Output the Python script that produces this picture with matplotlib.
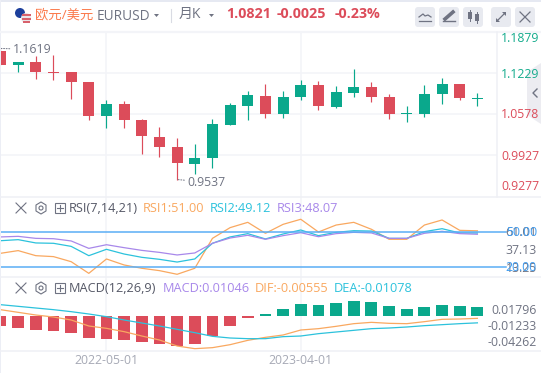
import matplotlib
matplotlib.use('Agg')
import matplotlib.pyplot as plt
from matplotlib.patches import Circle, FancyBboxPatch, Polygon, Rectangle

plt.rcParams['font.family'] = ['Open Sans', 'Noto Sans CJK SC', 'DejaVu Sans']

# monthly candles, EURUSD
opens = [1.1578, 1.1361, 1.1403, 1.1245, 1.1245, 1.1086, 1.0546, 1.0737, 1.0483, 1.0213, 1.0054, 0.9785, 0.9880, 1.0403,
         1.0705, 1.0864, 1.0578, 1.0848, 1.1038, 1.0689, 1.0911, 1.1006, 1.0848, 1.0573, 1.0578, 1.0895, 1.1054, 1.0816]
closes = [1.1356, 1.1398, 1.1245, 1.1234, 1.1086, 1.0546, 1.0737, 1.0483, 1.0229, 1.0054, 0.9800, 0.9880, 1.0419, 1.0721,
          1.0880, 1.0578, 1.0848, 1.1038, 1.0705, 1.0927, 1.1006, 1.0848, 1.0578, 1.0583, 1.0895, 1.1054, 1.0832, 1.0821]
highs = [1.1619, 1.1409, 1.1498, 1.1514, 1.1245, 1.1086, 1.0800, 1.0784, 1.0499, 1.0372, 1.0197, 1.0102, 1.0499, 1.0753,
         1.0943, 1.1054, 1.0943, 1.1118, 1.1102, 1.1022, 1.1292, 1.1086, 1.0895, 1.0705, 1.1038, 1.1149, 1.1054, 1.0911]
lows = [1.1356, 1.1245, 1.1133, 1.1118, 1.0816, 1.0483, 1.0356, 1.0356, 0.9943, 0.9896, 0.9537, 0.9626, 0.9721, 1.0403,
        1.0484, 1.0515, 1.0515, 1.0800, 1.0641, 1.0673, 1.0848, 1.0768, 1.0499, 1.0451, 1.0530, 1.0737, 1.0800, 1.0705]

rsi1 = [31.9, 34.2, 29.9, 29.1, 24.8, 14.9, 27.1, 22.0, 19.2, 17.2, 14.1, 19.2, 44.6, 53.7,
        58.2, 48.9, 56.5, 60.8, 50.0, 55.9, 58.2, 52.3, 43.8, 43.8, 55.9, 60.2, 51.4, 51.0]
rsi2 = [42.6, 43.5, 40.7, 40.4, 37.8, 29.9, 35.3, 31.3, 28.5, 26.8, 24.5, 27.1, 40.4, 45.8,
        48.6, 44.1, 48.3, 51.7, 46.9, 49.7, 51.1, 50.8, 44.6, 44.6, 50.3, 52.8, 49.2, 49.12]
rsi3 = [45.8, 46.3, 44.6, 44.3, 42.4, 36.1, 39.2, 36.7, 34.4, 32.7, 30.5, 32.2, 40.4, 44.9,
        47.2, 43.8, 46.9, 49.4, 46.0, 48.6, 49.7, 49.2, 44.6, 44.6, 48.9, 50.6, 48.6, 48.07]
rsi_refs = [50, 20]

macd_hist = [-0.0116, -0.0139, -0.0163, -0.0174, -0.0197, -0.0255, -0.0267, -0.0279, -0.0302, -0.0325, -0.0348, -0.0325, -0.0232, -0.0116,
             -0.0023, 0.0023, 0.0081, 0.0139, 0.0128, 0.0151, 0.0174, 0.0163, 0.0116, 0.0081, 0.0105, 0.0128, 0.0116, 0.01046]
dif = [0.00453, 0.00143, -0.00166, -0.00399, -0.00747, -0.01443, -0.01714, -0.02101, -0.02605, -0.03069, -0.03765, -0.04075, -0.03959, -0.03611,
       -0.03108, -0.02759, -0.02488, -0.01908, -0.01753, -0.01482, -0.01173, -0.01018, -0.01134, -0.01173, -0.00940, -0.00670, -0.00631, -0.00555]
dea = [0.01033, 0.00840, 0.00646, 0.00453, 0.00221, -0.00050, -0.00360, -0.00747, -0.01095, -0.01443, -0.01830, -0.02218, -0.02643, -0.02837,
       -0.02914, -0.02914, -0.02682, -0.02605, -0.02334, -0.02140, -0.01947, -0.01753, -0.01676, -0.01560, -0.01405, -0.01289, -0.01173, -0.01078]
hist_base = -0.00283  # bars sit on this level in the picture

price_ticks = ['1.1879', '1.1229', '1.0578', '0.9927', '0.9277']
rsi_ticks = ['61.01', '37.13', '13.25']
rsi_ref_ticks = ['50.00', '20.00']
macd_ticks = ['0.01796', '-0.01233', '-0.04262']
date_labels = ['2022-05-01', '2023-04-01']
date_index = [6, 17]

RED = '#dc4c5a'
GREEN = '#0aa88c'
ORANGE = '#f9a860'
CYAN = '#2cc2dc'
PURPLE = '#a888ea'
BLUE = '#5aaef5'
GREY = '#6f7382'
GRID = '#f3f4f8'

W, H = 541, 373
fig = plt.figure(figsize=(W / 100, H / 100), dpi=100, facecolor='white')
x = list(range(len(opens)))
xlim = (-0.028, 28.11)


def pane(top, bottom):
    ax = fig.add_axes([0, 1 - bottom / H, 497 / W, (bottom - top) / H])
    ax.set_xlim(*xlim)
    ax.patch.set_alpha(0)
    ax.set_yticks([])
    ax.set_xticks([])
    for s in ax.spines.values():
        s.set_visible(False)
    for i in date_index:
        ax.axvline(i, color=GRID, lw=1.1, zorder=0)
    return ax


# price pane
ax = pane(32, 197)
ax.set_ylim(0.9260, 1.1880)
for level in [1.1229, 1.0578, 0.9927]:
    ax.axhline(level, color=GRID, lw=1.1, zorder=0)
for i in x:
    c = GREEN if closes[i] >= opens[i] else RED
    ax.vlines(i, lows[i], highs[i], color=c, lw=0.85, zorder=2)
    ax.bar(i, max(abs(closes[i] - opens[i]), 0.0016), bottom=min(opens[i], closes[i]), width=0.62, color=c, zorder=3)
ax.annotate('1.1619', xy=(0, 1.1619), xytext=(12, 1.1602), textcoords=('offset pixels', 'data'), color=GREY, fontsize=8.8,
            va='center', arrowprops=dict(arrowstyle='-', linestyle=':', color=GREY, lw=0.7, shrinkA=0, shrinkB=0))
ax.annotate('0.9537', xy=(10, 0.9537), xytext=(10, 0.9498), textcoords=('offset pixels', 'data'), color=GREY, fontsize=8.8,
            va='center', arrowprops=dict(arrowstyle='-', linestyle=':', color=GREY, lw=0.7, shrinkA=0, shrinkB=0))

# rsi pane
ax_r = pane(197, 277)
ax_r.set_ylim(11.8, 79.7)
ax_r.plot(x, rsi1, color=ORANGE, lw=0.9)
ax_r.plot(x, rsi2, color=CYAN, lw=0.9)
ax_r.plot(x, rsi3, color=PURPLE, lw=0.9)
for level in rsi_refs:
    ax_r.plot([-1, 28.62], [level, level], color=BLUE, lw=1.1, clip_on=False)

# macd pane
ax_m = pane(277, 351)
ax_m.set_ylim(-0.04346, 0.04246)
ax_m.bar(x, macd_hist, bottom=hist_base, width=0.67, color=[GREEN if v >= 0 else RED for v in macd_hist], zorder=2)
ax_m.plot(x, dif, color=ORANGE, lw=0.9, zorder=3)
ax_m.plot(x, dea, color=CYAN, lw=0.9, zorder=3)

# everything else sits on a pixel overlay
ov = fig.add_axes([0, 0, 1, 1], zorder=5)
ov.set_xlim(0, W)
ov.set_ylim(H, 0)
ov.axis('off')
ov.patch.set_alpha(0)


def txt(px, py, s, color=GREY, size=8.8, ha='left', **kw):
    ov.text(px, py, s, color=color, fontsize=size, ha=ha, va='center', **kw)


def hline(y, x0=0, x1=W, color='#eff0f5', lw=1.1):
    ov.plot([x0, x1], [y, y], color=color, lw=lw)


ov.add_patch(Rectangle((0, 0), W, 1.6, color='#e6e9f2', lw=0))
ov.add_patch(Rectangle((0, 0), 1, H, color='#eceef5', lw=0))
hline(32, lw=1.6, color='#f3f4f8')
hline(197)
hline(277)
hline(351)
ov.plot([497, 497], [32, 197], color='#eff0f5', lw=1.1)

# header
ov.add_patch(Circle((20, 13), 5, color='#1c3f9c', lw=0))
ov.add_patch(Circle((26, 18), 5, color='#e8e4e8', lw=0))
ov.add_patch(Rectangle((21.5, 14), 9, 2, color='#d8616c', lw=0))
ov.add_patch(Rectangle((21.5, 18), 9, 1.5, color='#d8616c', lw=0))
ov.add_patch(Rectangle((22.5, 21), 7, 1.5, color='#d8616c', lw=0))
txt(35, 14.5, '欧元/美元', color='#fb7a4c', size=9.6)
txt(97, 16, 'EURUSD', size=9.8)
ov.add_patch(Polygon([[154, 14], [159, 14], [156.5, 17]], color=GREY, lw=0))
ov.plot([170.5, 170.5], [9, 22], color='#d9dbe3', lw=0.8)
txt(179, 14.5, '月K', size=10)
ov.add_patch(Polygon([[209, 14], [214, 14], [211.5, 17]], color=GREY, lw=0))
txt(226, 14.5, '1.0821', color=RED, size=10.3, fontweight='bold')
txt(277, 14.5, '-0.0025', color=RED, size=10.3, fontweight='bold')
txt(335, 14.5, '-0.23%', color=RED, size=10.3, fontweight='bold')

# toolbar buttons
for bx in [415, 439, 463, 491, 515]:
    ov.add_patch(FancyBboxPatch((bx + 2, 9), 16, 16, boxstyle='round,pad=2,rounding_size=3', color='#e8eaf0', lw=0))
ov.plot([419, 423, 425, 428, 431], [17, 14, 16, 15, 17], color=GREY, lw=0.9)
hline(21, 419, 431, color=GREY, lw=0.9)
ov.plot([445, 453], [19, 12], color=GREY, lw=2.6)
hline(21, 443, 455, color=GREY, lw=1)
ov.add_patch(Rectangle((468, 12), 3.5, 7, color=GREY, lw=0))
ov.add_patch(Rectangle((475, 14), 3.5, 7, color=GREY, lw=0))
ov.plot([469.8, 469.8], [10, 21], color=GREY, lw=0.7)
ov.plot([476.8, 476.8], [12, 23], color=GREY, lw=0.7)
ov.plot([497, 505], [21, 13], color=GREY, lw=0.9)
ov.add_patch(Polygon([[502, 12], [506, 12], [506, 16]], color=GREY, lw=0))
ov.add_patch(Polygon([[496, 18], [496, 22], [500, 22]], color=GREY, lw=0))
ov.plot([520, 530], [12, 22], color=GREY, lw=0.9)
ov.plot([520, 530], [22, 12], color=GREY, lw=0.9)

# axis labels
price_y = [39, 75, 115, 157, 187]
price_c = ['#13ab8c', '#13ab8c', RED, RED, RED]
for s, py, c in zip(price_ticks, price_y, price_c):
    txt(501, py, s, color=c)
for s, py in zip(rsi_ticks, [232, 250, 268]):
    txt(537, py, s, ha='right')
for s, py in zip(rsi_ref_ticks, [232.5, 267.5]):
    txt(537, py, s, color='#3f9cf0', ha='right')
for s, py in zip(macd_ticks, [310.5, 327, 342.5]):
    txt(537, py, s, ha='right')
for s, i in zip(date_labels, date_index):
    txt(0.5 + 17.66 * i, 360, s, color='#a6a9b5', ha='center')

# collapse handle
ov.add_patch(Polygon([[541, 63], [527, 72], [527, 115], [541, 124]], color='#e4e5ec', alpha=0.7, lw=0))
ov.plot([537, 533, 537], [89, 93, 97], color=GREY, lw=1)


# indicator headers
def pane_header(y):
    ov.plot([16, 26], [y - 5, y + 5], color=GREY, lw=0.8)
    ov.plot([16, 26], [y + 5, y - 5], color=GREY, lw=0.8)
    ov.add_patch(Polygon([[41, y - 6], [46, y - 3], [46, y + 3], [41, y + 6], [36, y + 3], [36, y - 3]], fill=False, ec=GREY, lw=0.8))
    ov.add_patch(Circle((41, y), 2, fill=False, ec=GREY, lw=0.8))
    ov.add_patch(Rectangle((55, y - 5), 10, 10, fill=False, ec=GREY, lw=0.8))
    ov.plot([57, 63], [y, y], color=GREY, lw=0.8)
    ov.plot([60, 60], [y - 3, y + 3], color=GREY, lw=0.8)


pane_header(208)
txt(69, 208.5, 'RSI(7,14,21)', color='#555866', size=9.2)
txt(143, 208.5, 'RSI1:51.00', color=ORANGE, size=9.2)
txt(210, 208.5, 'RSI2:49.12', color=CYAN, size=9.2)
txt(277, 208.5, 'RSI3:48.07', color=PURPLE, size=9.2)
pane_header(288)
txt(69, 288.5, 'MACD(12,26,9)', color='#555866', size=9.2)
txt(163, 288.5, 'MACD:0.01046', color=PURPLE, size=9.2)
txt(255, 288.5, 'DIF:-0.00555', color=ORANGE, size=9.2)
txt(334, 288.5, 'DEA:-0.01078', color=CYAN, size=9.2)

fig.savefig('out.png', dpi=100)
